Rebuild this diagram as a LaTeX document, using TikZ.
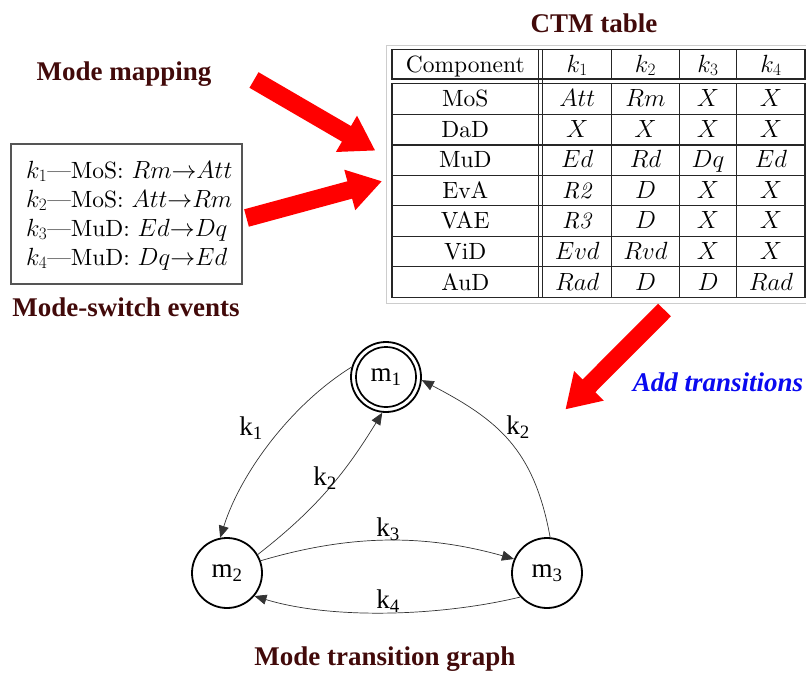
\documentclass[tikz,border=0pt]{standalone}
\usepackage{fontspec}
\usetikzlibrary{arrows.meta}
% 10pt design size of Latin Modern, scaled up, for table and event texts
\setmainfont{lmroman10-regular.otf}[
  ItalicFont=lmroman10-italic.otf,
  BoldFont=lmroman10-bold.otf,
  BoldItalicFont=lmroman10-bolditalic.otf]
\newfontfamily\titlefont{Liberation Serif}
\definecolor{titlered}{RGB}{66,10,10}
\definecolor{addblue}{RGB}{10,10,240}
\definecolor{framegray}{RGB}{205,205,205}
\definecolor{boxgray}{RGB}{85,85,85}

\begin{document}
\begin{tikzpicture}[x=1pt,y=-1pt,
  title/.style={font=\titlefont\bfseries\fontsize{27}{32}\selectfont, text=titlered, inner sep=0pt},
  cell/.style={font=\fontsize{23.5}{28}\selectfont, anchor=base, inner sep=0pt},
  evline/.style={font=\fontsize{23.5}{28}\selectfont, anchor=base west, inner sep=0pt},
  mode/.style={circle, draw, line width=1.8pt, minimum size=70pt, inner sep=0pt,
    font=\titlefont\fontsize{27}{32}\selectfont},
  trans/.style={draw=black!80, line width=0.7pt, -{Triangle[length=12pt,width=10pt]}},
  tlabel/.style={font=\titlefont\fontsize{27}{32}\selectfont, inner sep=0pt},
  tline/.style={line width=1.4pt, draw=black!85},
  bigarrow/.pic={\fill[red] (0,-9) -- (107,-9) -- (107,-21) -- (140,0) -- (107,21) -- (107,9) -- (0,9) -- cycle;}
]
\useasboundingbox (0,0) rectangle (806,675);

% ---------- titles ----------
\node[title] (ctmtitle) at (594,23) {CTM table};
\node[title] (maptitle) at (124,74) {Mode mapping};
\node[title] (evtitle) at (126,307) {Mode-switch events};
\node[title] (graphtitle) at (385,659) {Mode transition graph};
\node[title, text=addblue, font=\titlefont\bfseries\itshape\fontsize{27}{32}\selectfont] (addtitle) at (718,382) {Add transitions};

% ---------- mode-switch events ----------
\node[draw=boxgray, line width=1.1pt, minimum width=231pt, minimum height=140pt, inner sep=0pt] (events) at (126.5,214) {};
\node[evline] (ev1) at (26,178) {$k_1$---MoS: $Rm{\rightarrow}Att$};
\node[evline] (ev2) at (26,207) {$k_2$---MoS: $Att{\rightarrow}Rm$};
\node[evline] (ev3) at (26,236) {$k_3$---MuD: $Ed{\rightarrow}Dq$};
\node[evline] (ev4) at (26,265) {$k_4$---MuD: $Dq{\rightarrow}Ed$};

% ---------- CTM table ----------
\draw[framegray, line width=1pt] (806,45) -- (386.5,45) -- (386.5,303) -- (806,303);
% horizontal rules
\foreach \yy in {49.3,79,83.3,114.3,145,175.5,205.7,236.7,266.7,297.3}
  \draw[tline] (391.3,\yy) -- (805.7,\yy);
% vertical rules: the double rule runs through, the others break at the double hline
\foreach \xx in {538.7,542.7}
  \draw[tline] (\xx,49.3) -- (\xx,297.3);
\foreach \xx in {392,611.7,679.3,736.7,805} {
  \draw[tline] (\xx,49.3) -- (\xx,79);
  \draw[tline] (\xx,83.3) -- (\xx,297.3);
}
% header
\foreach \txt/\xx [count=\c] in {Component/465.3,$k_1$/577.2,$k_2$/645.5,$k_3$/708,$k_4$/770.9}
  \node[cell] (h-\c) at (\xx,72) {\txt};
% body
\foreach \nm/\va/\vb/\vc/\vd [count=\r] in {
    MoS/$Att$/$Rm$/$X$/$X$,
    DaD/$X$/$X$/$X$/$X$,
    MuD/$Ed$/$Rd$/$Dq$/$Ed$,
    EvA/\textit{R2}/$D$/$X$/$X$,
    VAE/\textit{R3}/$D$/$X$/$X$,
    ViD/$Evd$/$Rvd$/$X$/$X$,
    AuD/$Rad$/$D$/$D$/$Rad$} {
  \pgfmathsetmacro{\yb}{83.3+30.57*(\r-0.5)+8}
  \node[cell] (c-\r-0) at (465.3,\yb) {\nm};
  \node[cell] (c-\r-1) at (577.2,\yb) {\va};
  \node[cell] (c-\r-2) at (645.5,\yb) {\vb};
  \node[cell] (c-\r-3) at (708,\yb) {\vc};
  \node[cell] (c-\r-4) at (770.9,\yb) {\vd};
}

% ---------- red process arrows ----------
\coordinate (mapTail) at (254,80);
\coordinate (evTail) at (246.5,218);
\coordinate (addTail) at (664.5,310);
\pic[rotate=-30.2] at (mapTail) {bigarrow};
\pic[rotate=15.2] at (evTail) {bigarrow};
\pic[rotate=225.1] at (addTail) {bigarrow};

% ---------- mode transition graph ----------
\node[mode] (m1) at (386,377) {m\textsubscript{1}};
\draw[line width=1.7pt] (m1.center) circle[radius=30pt];
\node[mode] (m2) at (227,573) {m\textsubscript{2}};
\node[mode] (m3) at (547,573) {m\textsubscript{3}};

\draw[trans] (m1.164) .. controls (292,404) and (241,472) .. (m2.101);
\draw[trans] (m2.31) .. controls (319,507) and (347,470) .. (m1.264);
\draw[trans] (m3.85) .. controls (534,449) and (498,420) .. (m1.355);
\draw[trans] (m2.20) .. controls (351,534) and (425,534) .. (m3.157);
\draw[trans] (m3.222) .. controls (442,616) and (333,620) .. (m2.-40);

\node[tlabel] (lk1) at (251,428) {k\textsubscript{1}};
\node[tlabel] (lk2a) at (325,478) {k\textsubscript{2}};
\node[tlabel] (lk2b) at (518,427) {k\textsubscript{2}};
\node[tlabel] (lk3) at (388,529) {k\textsubscript{3}};
\node[tlabel] (lk4) at (388,601) {k\textsubscript{4}};
\end{tikzpicture}
\end{document}
